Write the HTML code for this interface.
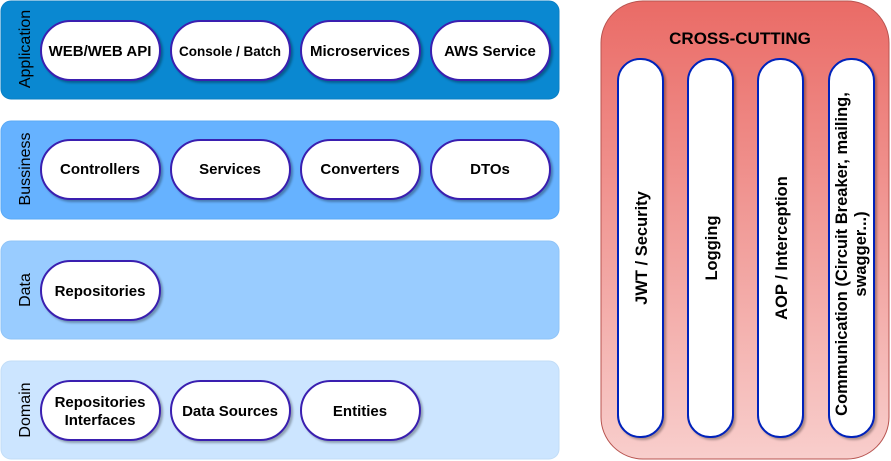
<!DOCTYPE html>
<html><head><meta charset="utf-8"><style>body{margin:0;background:#fff}svg{display:block}text{font-family:"Liberation Sans",Arial,sans-serif}</style></head><body>
<svg width="891" height="461" viewBox="0 0 891 461" xmlns="http://www.w3.org/2000/svg">
<defs>
<linearGradient id="g" x1="0" y1="0" x2="0" y2="1"><stop offset="0" stop-color="#ea6b66"/><stop offset="1" stop-color="#f8cecc"/></linearGradient>
</defs>
<rect x="1" y="1" width="558" height="98" rx="10" fill="#0a88d1" stroke="#0b7fc4"/>
<rect x="1" y="121" width="558" height="98" rx="10" fill="#66b2ff" stroke="#5aa9f5"/>
<rect x="1" y="241" width="558" height="98" rx="10" fill="#99ccff" stroke="#90c4f7"/>
<rect x="1" y="361" width="558" height="98" rx="10" fill="#cce5ff" stroke="#c2ddf7"/>
<g font-size="16" fill="#000" text-anchor="middle">
<text transform="translate(30,49) rotate(-90)">Application</text>
<text transform="translate(30,169) rotate(-90)">Bussiness</text>
<text transform="translate(30,290) rotate(-90)">Data</text>
<text transform="translate(30,410) rotate(-90)">Domain</text>
</g>
<g fill="#fff" stroke="#3a1fb0" stroke-width="2">
<g style="filter:drop-shadow(2px 2px 1px rgba(0,0,0,0.3))">
<rect x="41" y="21" width="119" height="59" rx="29.5"/>
<rect x="171" y="21" width="119" height="59" rx="29.5"/>
<rect x="301" y="21" width="119" height="59" rx="29.5"/>
<rect x="431" y="21" width="119" height="59" rx="29.5"/>
<rect x="41" y="140" width="119" height="59" rx="29.5"/>
<rect x="171" y="140" width="119" height="59" rx="29.5"/>
<rect x="301" y="140" width="119" height="59" rx="29.5"/>
<rect x="431" y="140" width="119" height="59" rx="29.5"/>
<rect x="41" y="261" width="119" height="59" rx="29.5"/>
<rect x="41" y="381" width="119" height="59" rx="29.5"/>
<rect x="171" y="381" width="119" height="59" rx="29.5"/>
<rect x="301" y="381" width="119" height="59" rx="29.5"/>
</g></g>
<g font-size="15" font-weight="bold" fill="#000" text-anchor="middle">
<text x="100" y="56">WEB/WEB API</text>
<text x="230" y="56" font-size="13.5">Console / Batch</text>
<text x="360" y="56">Microservices</text>
<text x="490" y="56">AWS Service</text>
<text x="100" y="174">Controllers</text>
<text x="230" y="174">Services</text>
<text x="360" y="174">Converters</text>
<text x="490" y="174">DTOs</text>
<text x="100" y="296">Repositories</text>
<text x="100" y="407">Repositories</text>
<text x="100" y="425">Interfaces</text>
<text x="230" y="416">Data Sources</text>
<text x="360" y="416">Entities</text>
</g>
<rect x="601" y="1" width="288" height="458" rx="42" fill="url(#g)" stroke="#b85450"/>
<text x="740" y="44" font-size="17" font-weight="bold" text-anchor="middle">CROSS-CUTTING</text>
<g fill="#fff" stroke="#0022bb" stroke-width="2" style="filter:drop-shadow(2px 2px 1px rgba(0,0,0,0.3))">
<rect x="618" y="59" width="45" height="378" rx="22"/>
<rect x="688" y="59" width="45" height="378" rx="22"/>
<rect x="758" y="59" width="45" height="378" rx="22"/>
<rect x="829" y="59" width="45" height="378" rx="22"/>
</g>
<g font-size="16.5" font-weight="bold" text-anchor="middle">
<text transform="translate(647,248) rotate(-90)">JWT / Security</text>
<text transform="translate(717,248) rotate(-90)">Logging</text>
<text transform="translate(787,248) rotate(-90)">AOP / Interception</text>
<text transform="translate(847,254) rotate(-90)">Communication (Circuit Breaker, mailing,</text>
<text transform="translate(866,254) rotate(-90)">swagger...)</text>
</g>
</svg>
</body></html>
